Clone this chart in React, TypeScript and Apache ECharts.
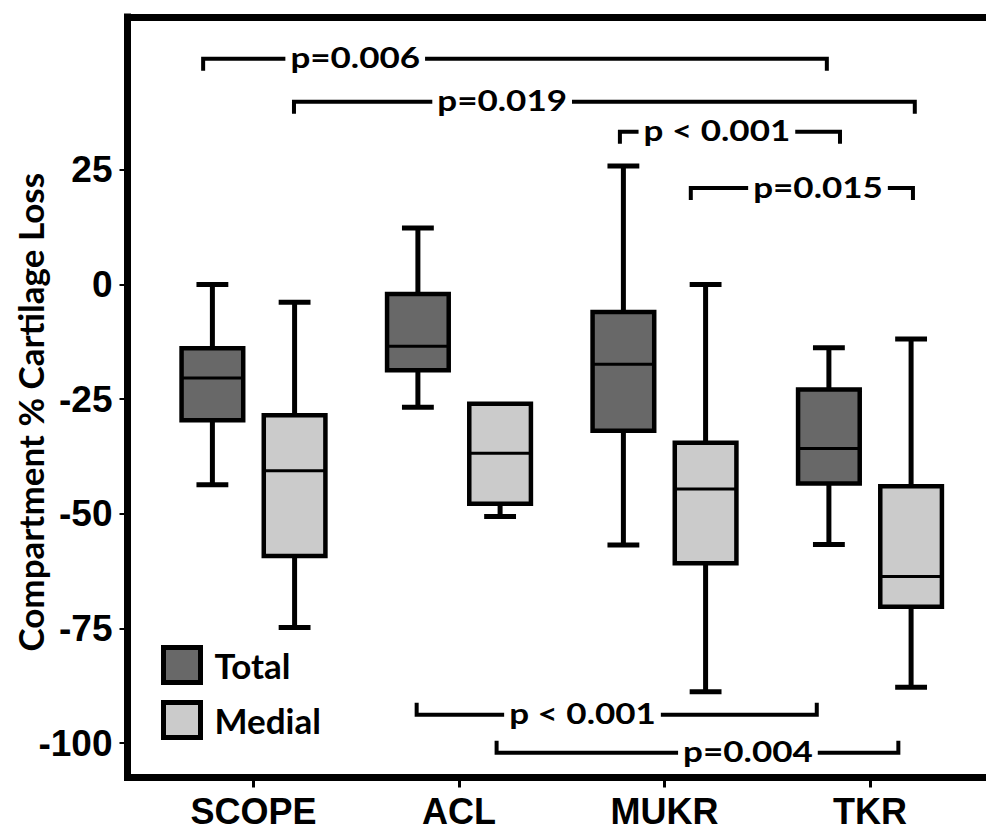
import React, { useEffect, useRef } from "react";
import * as echarts from "echarts";

const categories = ["SCOPE", "ACL", "MUKR", "TKR"];
const groups = ["Total", "Medial"];

// Five-number summaries per procedure: [min, Q1, median, Q3, max]
const totalStats = [
  [-43.7, -29.6, -20.4, -13.9, 0],
  [-26.8, -18.7, -13.5, -2.1, 12.3],
  [-56.8, -31.9, -17.4, -6.0, 25.8],
  [-56.7, -43.4, -35.8, -22.9, -13.8],
];
const medialStats = [
  [-74.8, -59.2, -40.6, -28.5, -3.9],
  [-50.6, -47.8, -36.8, -26.0, -26.0],
  [-88.8, -60.8, -44.6, -34.5, 0],
  [-87.8, -70.3, -63.7, -44.0, -11.9],
];

const yTicks = [-100, -75, -50, -25, 0, 25];

// Pairwise comparisons: bracket span on the x scale, its level on the y scale, and where the label sits
const pLabels = ["p=0.006", "p=0.019", "p < 0.001", "p=0.015", "p < 0.001", "p=0.004"];
const pFrom = [0.755, 1.197, 2.783, 3.128, 1.794, 2.183];
const pTo = [3.79, 4.218, 3.854, 4.209, 3.741, 4.138];
const pLevel = [49.2, 39.8, 33.3, 21.0, -93.8, -102.1];
const pLabelAt = [1.495, 2.21, 3.255, 3.747, 2.601, 3.406];

const ARIAL = "'Liberation Sans', Arial, sans-serif";
const HUMANIST = "Lato, 'Open Sans', sans-serif";

function boxRenderer(offset: number) {
  return (params: any, api: any) => {
    const x = api.value(0) + offset;
    const lo = api.value(1);
    const q1 = api.value(2);
    const med = api.value(3);
    const q3 = api.value(4);
    const hi = api.value(5);
    const pHi = api.coord([x, hi]);
    const pQ3 = api.coord([x, q3]);
    const pMed = api.coord([x, med]);
    const pQ1 = api.coord([x, q1]);
    const pLo = api.coord([x, lo]);
    const cx = pHi[0];
    const halfW = api.size([0.3, 0])[0] / 2;
    const halfCap = api.size([0.155, 0])[0] / 2;
    const fill = api.visual("color");
    const line = (x1: number, y1: number, x2: number, y2: number, w: number) => ({
      type: "line",
      shape: { x1, y1, x2, y2 },
      style: { stroke: "#000", lineWidth: w },
    });
    const children: any[] = [];
    if (hi > q3) {
      children.push(line(cx, pHi[1], cx, pQ3[1], 5));
      children.push(line(cx - halfCap, pHi[1], cx + halfCap, pHi[1], 5));
    }
    if (lo < q1) {
      children.push(line(cx, pQ1[1], cx, pLo[1], 5));
      children.push(line(cx - halfCap, pLo[1], cx + halfCap, pLo[1], 5));
    }
    children.push({
      type: "rect",
      shape: { x: cx - halfW, y: pQ3[1], width: 2 * halfW, height: pQ1[1] - pQ3[1] },
      style: { fill, stroke: "#000", lineWidth: 4.5 },
    });
    children.push(line(cx - halfW, pMed[1], cx + halfW, pMed[1], 3));
    return { type: "group", children };
  };
}

function bracketRenderer(params: any, api: any) {
  const i = params.dataIndex;
  const level = api.value(2);
  const a = api.coord([api.value(0), level]);
  const b = api.coord([api.value(1), level]);
  const t = api.coord([api.value(3), level]);
  const tip = level > 0 ? 12 : -12;
  return {
    type: "group",
    children: [
      {
        type: "polyline",
        shape: {
          points: [
            [a[0], a[1] + tip],
            [a[0], a[1]],
            [b[0], b[1]],
            [b[0], b[1] + tip],
          ],
        },
        style: { stroke: "#000", lineWidth: 4, fill: "none", lineJoin: "miter" },
      },
      {
        type: "text",
        x: t[0],
        y: t[1] - 1,
        scaleX: 1.25,
        style: {
          text: pLabels[i],
          font: `bold 28px ${HUMANIST}`,
          fill: "#000",
          align: "center",
          verticalAlign: "middle",
          backgroundColor: "#fff",
          padding: [0, 4],
        },
      },
    ],
  };
}

export default function App() {
  const ref = useRef<HTMLDivElement>(null);

  useEffect(() => {
    if (!ref.current) return;
    const chart = echarts.init(ref.current, null, { renderer: "svg" });

    const axisLineStyle = { color: "#000", width: 7, cap: "square" };
    const xMin = 0.3869;
    const xMax = 4.5645;

    chart.setOption({
      animation: false,
      backgroundColor: "#fff",
      grid: {
        left: 127.5,
        right: 0,
        top: 17,
        bottom: 55.5,
        containLabel: false,
        outerBoundsMode: "none",
      },
      legend: {
        orient: "vertical",
        left: 156,
        top: 640,
        icon: "rect",
        itemWidth: 37,
        itemHeight: 35,
        itemGap: 15,
        selectedMode: false,
        itemStyle: { borderColor: "#000", borderWidth: 5 },
        textStyle: {
          fontFamily: HUMANIST,
          fontWeight: "bold",
          fontSize: 35,
          color: "#000",
          lineHeight: 40,
          padding: [0, 0, 0, 9],
        },
        data: groups,
      },
      xAxis: [
        {
          type: "value",
          min: xMin,
          max: xMax,
          position: "bottom",
          splitLine: { show: false },
          axisLine: { show: true, onZero: false, lineStyle: axisLineStyle },
          axisTick: {
            show: true,
            customValues: [1, 2, 3, 4],
            length: 10,
            lineStyle: { color: "#000", width: 3 },
          },
          axisLabel: {
            customValues: [1, 2, 3, 4],
            formatter: (v: number) => categories[Math.round(v) - 1] ?? "",
            fontFamily: ARIAL,
            fontWeight: "bold",
            fontSize: 36,
            color: "#000",
            margin: 16,
          },
        },
        {
          type: "value",
          min: xMin,
          max: xMax,
          position: "top",
          splitLine: { show: false },
          axisLine: { show: true, onZero: false, lineStyle: axisLineStyle },
          axisTick: { show: false },
          axisLabel: { show: false },
        },
      ],
      yAxis: {
        type: "value",
        min: -107.5,
        max: 58.3,
        splitLine: { show: false },
        axisLine: { show: true, onZero: false, lineStyle: axisLineStyle },
        axisTick: {
          show: true,
          customValues: yTicks,
          length: 8,
          lineStyle: { color: "#000", width: 2 },
        },
        axisLabel: {
          customValues: yTicks,
          fontFamily: ARIAL,
          fontWeight: "bold",
          fontSize: 37,
          color: "#000",
          margin: 15,
          padding: [18, 0, 0, 0],
        },
        name: "Compartment % Cartilage Loss",
        nameLocation: "middle",
        nameRotate: 90,
        nameGap: 80,
        nameMoveOverlap: false,
        nameTextStyle: {
          fontFamily: HUMANIST,
          fontWeight: "bold",
          fontSize: 35,
          color: "#000",
          padding: [0, 30, 0, 0],
        },
      },
      series: [
        {
          type: "custom",
          name: "Total",
          renderItem: boxRenderer(-0.2),
          itemStyle: { color: "#686868" },
          encode: { x: 0, y: [1, 2, 3, 4, 5] },
          data: totalStats.map((s, i) => [i + 1, ...s]),
          z: 2,
        },
        {
          type: "custom",
          name: "Medial",
          renderItem: boxRenderer(0.2),
          itemStyle: { color: "#cbcbcb" },
          encode: { x: 0, y: [1, 2, 3, 4, 5] },
          data: medialStats.map((s, i) => [i + 1, ...s]),
          z: 2,
        },
        {
          type: "custom",
          name: "comparisons",
          renderItem: bracketRenderer,
          encode: { x: [0, 1], y: 2 },
          data: pLabels.map((_, i) => [pFrom[i], pTo[i], pLevel[i], pLabelAt[i]]),
          z: 3,
        },
      ],
    });

    return () => chart.dispose();
  }, []);

  return (
    <div
      ref={ref}
      style={{ position: "absolute", left: 0, top: 0, width: 986, height: 833, background: "#fff" }}
    />
  );
}
